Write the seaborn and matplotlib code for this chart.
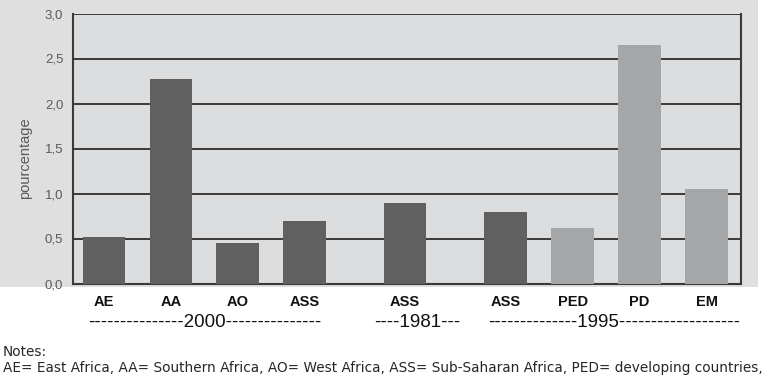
import matplotlib
matplotlib.use("Agg")
import matplotlib.pyplot as plt
import seaborn as sns
import pandas as pd
from matplotlib.patches import Rectangle
from matplotlib.ticker import FuncFormatter

# data
labels = ["AE", "AA", "AO", "ASS", "ASS", "ASS", "PED", "PD", "EM"]
values = [0.52, 2.27, 0.45, 0.70, 0.89, 0.79, 0.62, 2.65, 1.05]
years = ["2000", "2000", "2000", "2000", "1981", "1995", "1995", "1995", "1995"]
kind = ["afr", "afr", "afr", "afr", "afr", "afr", "oth", "oth", "oth"]
year_labels = {"2000": "---------------2000---------------",
               "1981": "----1981---",
               "1995": "--------------1995-------------------"}
# small nudges so the dashed year labels sit like the original
year_shift = {"2000": 0.0, "1981": 0.35, "1995": 0.25}

# positions: 2 units between bars, 3 units between year groups
pos = []
p = 0
for i, y in enumerate(years):
    if i > 0:
        p += 2 if y == years[i - 1] else 3
    pos.append(p)

df = pd.DataFrame({"pos": pos, "val": values, "kind": kind, "lab": labels, "year": years})

sns.set_style("white")
plt.rcParams["font.family"] = ["Liberation Sans", "DejaVu Sans"]

fig = plt.figure(figsize=(7.68, 3.80), dpi=100)
fig.patch.set_facecolor("white")
fig.patches.append(Rectangle((0, 1 - 287 / 380), 758 / 768, 287 / 380, transform=fig.transFigure,
                             facecolor="#dfdfe0", edgecolor="none", zorder=-5))
ax = fig.add_axes([73 / 768, 1 - 283.5 / 380, (741 - 73) / 768, (283.5 - 13.5) / 380])
ax.set_facecolor("#dcdddf")

sns.barplot(data=df, x="pos", y="val", hue="kind", native_scale=True, dodge=False,
            palette={"afr": "#606060", "oth": "#a5a6a8"}, width=0.635, saturation=1,
            linewidth=0, legend=False, ax=ax, zorder=3)

ax.set_xlim(-0.92, 19.03)
ax.set_ylim(0, 3.0)
ax.set_yticks([0, 0.5, 1.0, 1.5, 2.0, 2.5, 3.0])
ax.yaxis.set_major_formatter(FuncFormatter(lambda v, _: f"{v:.1f}".replace(".", ",")))
ax.yaxis.grid(True, color="#3a3a3a", lw=1.4, zorder=1)
ax.set_axisbelow(True)
ax.tick_params(axis="y", length=0, pad=7, labelsize=9.5, labelcolor="#5a5a5a")

ax.set_xticks(pos)
ax.set_xticklabels(labels, fontweight="bold", fontsize=10.5)
ax.tick_params(axis="x", which="major", length=0, pad=8, labelcolor="#111111")
minor = []
for a, b in zip(pos[:-1], pos[1:]):
    if b - a == 2:
        minor.append(a + 1)
    else:
        minor += [a + 1, a + 2]
ax.set_xticks(minor, minor=True)
ax.tick_params(axis="x", which="minor", length=3, width=1.3, color="#3a3a3a", direction="out")

for s in ax.spines.values():
    s.set_color("#3a3a3a")
    s.set_linewidth(1.5)
ax.spines["top"].set_visible(False)
ax.set_xlabel("")
ax.set_ylabel("")

fig.text(25 / 768, 1 - 158 / 380, "pourcentage", rotation=90, ha="center", va="center",
         fontsize=10.5, color="#5a5a5a")

for y in ["2000", "1981", "1995"]:
    xs = df.loc[df["year"] == y, "pos"]
    xc = (xs.min() + xs.max()) / 2 + year_shift[y]
    ax.text(xc, -0.145, year_labels[y], transform=ax.get_xaxis_transform(), ha="center", va="center",
            fontsize=13.5, color="#111111")

fig.text(0.004, 1 - 352 / 380, "Notes:", ha="left", va="center", fontsize=9.8, family="DejaVu Sans")
fig.text(0.004, 1 - 368 / 380,
         "AE= East Africa, AA= Southern Africa, AO= West Africa, ASS= Sub-Saharan Africa, PED= developing countries,",
         ha="left", va="center", fontsize=9.8, family="DejaVu Sans")

fig.savefig("out.png", dpi=100)
